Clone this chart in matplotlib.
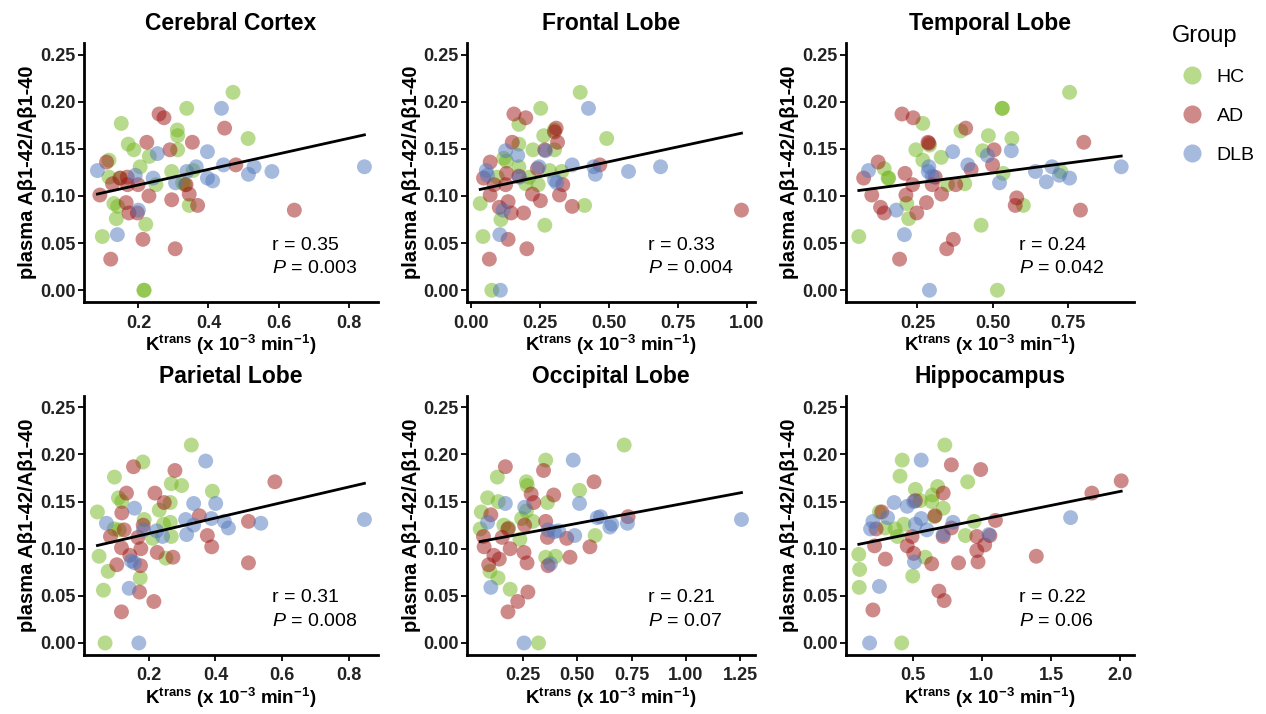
import numpy as np
import matplotlib
matplotlib.use("Agg")
import matplotlib.pyplot as plt
from matplotlib.lines import Line2D

plt.rcParams['font.family'] = ['Liberation Sans', 'DejaVu Sans']
plt.rcParams['mathtext.fontset'] = 'custom'
plt.rcParams['mathtext.rm'] = 'Liberation Sans'
plt.rcParams['mathtext.it'] = 'Liberation Sans:italic'
plt.rcParams['mathtext.bf'] = 'Liberation Sans:bold'

# ---- data (Ktrans, plasma ratio) ----
# Cerebral Cortex
cc_hc_x = [0.470, 0.338, 0.151, 0.311, 0.312, 0.513, 0.171, 0.187, 0.312, 0.231, 0.116, 0.205,
           0.295, 0.116, 0.149, 0.250, 0.333, 0.356, 0.130, 0.141, 0.345, 0.137, 0.221, 0.097,
           0.216, 0.216, 0.326]
cc_hc_y = [0.210, 0.193, 0.177, 0.170, 0.164, 0.161, 0.155, 0.149, 0.149, 0.142, 0.138, 0.131,
           0.126, 0.120, 0.119, 0.112, 0.112, 0.127, 0.092, 0.089, 0.090, 0.076, 0.070, 0.057,
           0.000, 0.000, 0.114]
cc_ad_x = [0.259, 0.273, 0.446, 0.224, 0.354, 0.290, 0.109, 0.478, 0.168, 0.126, 0.169, 0.199,
           0.336, 0.090, 0.230, 0.345, 0.295, 0.165, 0.369, 0.173, 0.197, 0.645, 0.213, 0.305,
           0.121, 0.147]
cc_ad_y = [0.187, 0.183, 0.172, 0.157, 0.157, 0.149, 0.136, 0.133, 0.120, 0.113, 0.112, 0.112,
           0.112, 0.101, 0.100, 0.102, 0.096, 0.093, 0.090, 0.082, 0.082, 0.085, 0.054, 0.044,
           0.033, 0.119]
cc_dlb_x = [0.437, 0.254, 0.397, 0.083, 0.191, 0.242, 0.338, 0.365, 0.443, 0.530, 0.514, 0.581,
            0.845, 0.306, 0.397, 0.412, 0.200, 0.140]
cc_dlb_y = [0.193, 0.145, 0.147, 0.127, 0.122, 0.119, 0.126, 0.131, 0.133, 0.131, 0.123, 0.126,
            0.131, 0.114, 0.119, 0.116, 0.085, 0.059]

# Frontal Lobe
fl_hc_x = [0.397, 0.254, 0.175, 0.265, 0.303, 0.175, 0.226, 0.304, 0.493, 0.120, 0.130, 0.175,
           0.286, 0.330, 0.097, 0.212, 0.200, 0.245, 0.035, 0.413, 0.110, 0.269, 0.045, 0.077]
fl_hc_y = [0.210, 0.193, 0.176, 0.164, 0.170, 0.155, 0.149, 0.149, 0.161, 0.140, 0.137, 0.131,
           0.127, 0.126, 0.120, 0.120, 0.113, 0.112, 0.092, 0.090, 0.075, 0.069, 0.057, 0.000]
fl_ad_x = [0.157, 0.200, 0.310, 0.304, 0.151, 0.315, 0.269, 0.071, 0.047, 0.130, 0.085, 0.127,
           0.175, 0.242, 0.334, 0.468, 0.071, 0.224, 0.253, 0.322, 0.136, 0.104, 0.147, 0.192,
           0.368, 0.981, 0.136, 0.204, 0.068]
fl_ad_y = [0.187, 0.183, 0.172, 0.168, 0.157, 0.157, 0.149, 0.136, 0.119, 0.124, 0.112, 0.112,
           0.121, 0.129, 0.112, 0.133, 0.101, 0.102, 0.095, 0.101, 0.094, 0.088, 0.082, 0.082,
           0.089, 0.085, 0.054, 0.044, 0.033]
fl_dlb_x = [0.427, 0.127, 0.171, 0.271, 0.057, 0.061, 0.177, 0.248, 0.368, 0.446, 0.452, 0.572,
            0.688, 0.304, 0.312, 0.118, 0.106, 0.108]
fl_dlb_y = [0.193, 0.148, 0.143, 0.148, 0.127, 0.122, 0.120, 0.131, 0.133, 0.131, 0.123, 0.126,
            0.131, 0.117, 0.114, 0.085, 0.059, 0.000]

# Temporal Lobe
tl_hc_x = [0.754, 0.531, 0.531, 0.268, 0.394, 0.485, 0.563, 0.290, 0.245, 0.466, 0.268, 0.329,
           0.140, 0.153, 0.155, 0.407, 0.350, 0.534, 0.725, 0.215, 0.601, 0.221, 0.461, 0.056,
           0.515]
tl_hc_y = [0.210, 0.193, 0.193, 0.177, 0.169, 0.164, 0.161, 0.154, 0.149, 0.148, 0.138, 0.141,
           0.129, 0.119, 0.119, 0.113, 0.112, 0.124, 0.126, 0.092, 0.090, 0.076, 0.069, 0.057,
           0.000]
tl_ad_x = [0.199, 0.236, 0.410, 0.285, 0.288, 0.504, 0.801, 0.120, 0.499, 0.072, 0.209, 0.234,
           0.309, 0.428, 0.299, 0.377, 0.099, 0.212, 0.330, 0.280, 0.579, 0.574, 0.128, 0.140,
           0.248, 0.790, 0.369, 0.347, 0.191]
tl_ad_y = [0.187, 0.183, 0.172, 0.157, 0.156, 0.149, 0.157, 0.136, 0.133, 0.119, 0.124, 0.112,
           0.120, 0.128, 0.112, 0.112, 0.101, 0.101, 0.102, 0.093, 0.098, 0.090, 0.088, 0.082,
           0.082, 0.085, 0.054, 0.044, 0.033]
tl_dlb_x = [0.088, 0.367, 0.561, 0.482, 0.288, 0.286, 0.299, 0.417, 0.522, 0.641, 0.696, 0.677,
            0.720, 0.754, 0.925, 0.180, 0.207, 0.290]
tl_dlb_y = [0.127, 0.147, 0.148, 0.143, 0.131, 0.126, 0.121, 0.133, 0.114, 0.126, 0.131, 0.115,
            0.122, 0.119, 0.131, 0.085, 0.059, 0.000]

# Parietal Lobe
pl_hc_x = [0.328, 0.183, 0.098, 0.268, 0.299, 0.391, 0.110, 0.120, 0.265, 0.232, 0.047, 0.187,
           0.265, 0.245, 0.097, 0.112, 0.212, 0.268, 0.052, 0.252, 0.079, 0.175, 0.065, 0.070]
pl_hc_y = [0.210, 0.192, 0.176, 0.169, 0.167, 0.161, 0.154, 0.150, 0.149, 0.141, 0.139, 0.131,
           0.128, 0.126, 0.121, 0.120, 0.111, 0.113, 0.092, 0.090, 0.076, 0.069, 0.056, 0.000]
pl_ad_x = [0.155, 0.279, 0.578, 0.134, 0.219, 0.247, 0.120, 0.352, 0.184, 0.127, 0.086, 0.168,
           0.376, 0.389, 0.499, 0.119, 0.177, 0.144, 0.226, 0.273, 0.105, 0.176, 0.499, 0.173,
           0.216, 0.119]
pl_ad_y = [0.187, 0.183, 0.171, 0.159, 0.159, 0.149, 0.138, 0.135, 0.125, 0.120, 0.113, 0.112,
           0.114, 0.102, 0.129, 0.101, 0.100, 0.093, 0.096, 0.091, 0.083, 0.082, 0.085, 0.054,
           0.044, 0.033]
pl_dlb_x = [0.371, 0.158, 0.335, 0.401, 0.074, 0.185, 0.224, 0.242, 0.311, 0.335, 0.388, 0.427,
            0.439, 0.536, 0.314, 0.846, 0.149, 0.158, 0.142, 0.171]
pl_dlb_y = [0.193, 0.143, 0.148, 0.148, 0.127, 0.120, 0.119, 0.113, 0.131, 0.125, 0.132, 0.129,
            0.122, 0.127, 0.115, 0.131, 0.087, 0.085, 0.058, 0.000]

# Occipital Lobe
ol_hc_x = [0.716, 0.354, 0.131, 0.265, 0.269, 0.510, 0.086, 0.135, 0.362, 0.265, 0.057, 0.243,
           0.295, 0.161, 0.183, 0.052, 0.235, 0.582, 0.354, 0.400, 0.097, 0.134, 0.190, 0.321]
ol_hc_y = [0.210, 0.194, 0.176, 0.171, 0.167, 0.162, 0.154, 0.150, 0.149, 0.140, 0.139, 0.132,
           0.129, 0.125, 0.122, 0.121, 0.110, 0.114, 0.091, 0.092, 0.076, 0.069, 0.057, 0.000]
ol_ad_x = [0.168, 0.344, 0.577, 0.287, 0.391, 0.299, 0.101, 0.734, 0.354, 0.257, 0.180, 0.067,
           0.153, 0.362, 0.451, 0.070, 0.190, 0.254, 0.558, 0.115, 0.140, 0.268, 0.365, 0.466,
           0.091, 0.272, 0.225, 0.180]
ol_ad_y = [0.187, 0.183, 0.171, 0.158, 0.157, 0.149, 0.136, 0.134, 0.129, 0.125, 0.121, 0.113,
           0.112, 0.112, 0.111, 0.102, 0.100, 0.096, 0.102, 0.093, 0.089, 0.085, 0.082, 0.091,
           0.083, 0.054, 0.044, 0.033]
ol_dlb_x = [0.481, 0.510, 0.168, 0.257, 0.086, 0.365, 0.394, 0.414, 0.488, 0.592, 0.607, 0.659,
            0.650, 0.731, 1.257, 0.376, 0.101, 0.254]
ol_dlb_y = [0.194, 0.148, 0.148, 0.144, 0.128, 0.120, 0.118, 0.119, 0.114, 0.133, 0.134, 0.126,
            0.123, 0.127, 0.131, 0.084, 0.059, 0.000]

# Hippocampus
hp_hc_x = [0.732, 0.424, 0.408, 0.897, 0.680, 0.519, 0.642, 0.554, 0.637, 0.720, 0.259, 0.656,
           0.301, 0.436, 0.389, 0.372, 0.944, 0.880, 0.110, 0.590, 0.116, 0.500, 0.113, 0.420]
hp_hc_y = [0.210, 0.194, 0.177, 0.171, 0.166, 0.163, 0.157, 0.151, 0.150, 0.143, 0.139, 0.134,
           0.122, 0.126, 0.113, 0.121, 0.129, 0.114, 0.094, 0.091, 0.078, 0.071, 0.059, 0.000]
hp_ad_x = [0.779, 0.991, 2.007, 0.720, 1.795, 0.519, 0.276, 0.661, 1.098, 0.235, 0.779, 0.495,
           0.720, 0.963, 1.058, 0.224, 0.460, 0.507, 1.020, 0.963, 0.302, 0.637, 0.831, 0.972,
           1.393, 0.689, 0.727, 0.212]
hp_ad_y = [0.189, 0.184, 0.172, 0.159, 0.159, 0.151, 0.139, 0.135, 0.130, 0.121, 0.122, 0.113,
           0.113, 0.113, 0.114, 0.103, 0.103, 0.095, 0.104, 0.098, 0.089, 0.084, 0.085, 0.086,
           0.092, 0.055, 0.045, 0.035]
hp_dlb_x = [0.561, 0.365, 0.460, 0.507, 0.212, 0.195, 0.318, 0.519, 0.561, 0.602, 0.791, 0.720,
            1.050, 1.641, 0.512, 0.259, 0.188]
hp_dlb_y = [0.194, 0.149, 0.145, 0.150, 0.129, 0.121, 0.133, 0.126, 0.132, 0.120, 0.128, 0.115,
            0.115, 0.133, 0.086, 0.060, 0.000]

titles = ['Cerebral Cortex', 'Frontal Lobe', 'Temporal Lobe',
          'Parietal Lobe', 'Occipital Lobe', 'Hippocampus']
r_vals = ['0.35', '0.33', '0.24', '0.31', '0.21', '0.22']
p_vals = ['0.003', '0.004', '0.042', '0.008', '0.07', '0.06']
x_ticks = [[0.2, 0.4, 0.6, 0.8], [0.0, 0.25, 0.5, 0.75, 1.0], [0.25, 0.5, 0.75],
           [0.2, 0.4, 0.6, 0.8], [0.25, 0.5, 0.75, 1.0, 1.25], [0.5, 1.0, 1.5, 2.0]]
x_fmt = ['{:.1f}', '{:.2f}', '{:.2f}', '{:.1f}', '{:.2f}', '{:.1f}']
y_ticks = [0.00, 0.05, 0.10, 0.15, 0.20, 0.25]

groups = ['HC', 'AD', 'DLB']
colors = {'HC': '#72B61C', 'AD': '#9E1515', 'DLB': '#4F77BD'}

panels = [
    {'HC': (cc_hc_x, cc_hc_y), 'AD': (cc_ad_x, cc_ad_y), 'DLB': (cc_dlb_x, cc_dlb_y)},
    {'HC': (fl_hc_x, fl_hc_y), 'AD': (fl_ad_x, fl_ad_y), 'DLB': (fl_dlb_x, fl_dlb_y)},
    {'HC': (tl_hc_x, tl_hc_y), 'AD': (tl_ad_x, tl_ad_y), 'DLB': (tl_dlb_x, tl_dlb_y)},
    {'HC': (pl_hc_x, pl_hc_y), 'AD': (pl_ad_x, pl_ad_y), 'DLB': (pl_dlb_x, pl_dlb_y)},
    {'HC': (ol_hc_x, ol_hc_y), 'AD': (ol_ad_x, ol_ad_y), 'DLB': (ol_dlb_x, ol_dlb_y)},
    {'HC': (hp_hc_x, hp_hc_y), 'AD': (hp_ad_x, hp_ad_y), 'DLB': (hp_dlb_x, hp_dlb_y)},
]
text_x = [0.64, 0.63, 0.60, 0.64, 0.63, 0.60]

fig = plt.figure(figsize=(12.66, 7.14), dpi=100)

lefts = [0.0664, 0.369, 0.668]
widths = [0.232, 0.227, 0.228]
bottoms = [0.577, 0.083]
height = 0.363

xlabel = r'K$^{\mathregular{trans}}$ (x 10$^{\mathbf{-3}}$ min$^{\mathbf{-1}}$)'

for i, pdata in enumerate(panels):
    row, col = divmod(i, 3)
    ax = fig.add_axes([lefts[col], bottoms[row], widths[col], height])
    all_x, all_y = [], []
    for g in groups:
        gx, gy = pdata[g]
        ax.scatter(gx, gy, s=115, color=colors[g], alpha=0.5, edgecolors='none', zorder=2)
        all_x += gx
        all_y += gy
    all_x = np.array(all_x)
    all_y = np.array(all_y)
    slope, icpt = np.polyfit(all_x, all_y, 1)
    xs = np.array([all_x.min(), all_x.max()])
    ax.plot(xs, slope * xs + icpt, color='black', lw=2.0, zorder=3)

    ax.set_ylim(-0.0125, 0.2625)
    ax.margins(x=0.05)
    ax.set_yticks(y_ticks)
    ax.set_yticklabels(['{:.2f}'.format(v) for v in y_ticks])
    ax.set_xticks(x_ticks[i])
    ax.set_xticklabels([x_fmt[i].format(v) for v in x_ticks[i]])
    for lab in ax.get_xticklabels() + ax.get_yticklabels():
        lab.set_fontweight('bold')
        lab.set_fontsize(13)
        lab.set_color('#222222')
    ax.tick_params(length=4, width=1.3)
    ax.tick_params(axis='y', pad=2)
    ax.tick_params(axis='x', pad=5)
    for s in ['top', 'right']:
        ax.spines[s].set_visible(False)
    for s in ['left', 'bottom']:
        ax.spines[s].set_linewidth(2.0)

    ax.set_title(titles[i], fontsize=16.5, fontweight='bold', pad=9)
    ax.set_xlabel(xlabel, fontsize=13.5, fontweight='bold', labelpad=1)
    ax.set_ylabel('plasma Aβ1-42/Aβ1-40', fontsize=14.5, fontweight='bold', labelpad=2)

    ax.text(text_x[i], 0.22, 'r = ' + r_vals[i], transform=ax.transAxes,
            fontsize=14, va='center', ha='left')
    ax.text(text_x[i], 0.13, r'$\mathit{P}$ = ' + p_vals[i], transform=ax.transAxes,
            fontsize=14, va='center', ha='left')

handles = [Line2D([], [], marker='o', linestyle='none', markersize=13,
                  markerfacecolor=colors[g], markeredgecolor='none', alpha=0.5)
           for g in groups]
fig.legend(handles, groups, title='Group', loc='upper left',
           bbox_to_anchor=(0.912, 0.99), frameon=False, fontsize=14,
           title_fontsize=17, labelspacing=1.1, handletextpad=0.3,
           alignment='left')

fig.savefig('out.png', dpi=100)
